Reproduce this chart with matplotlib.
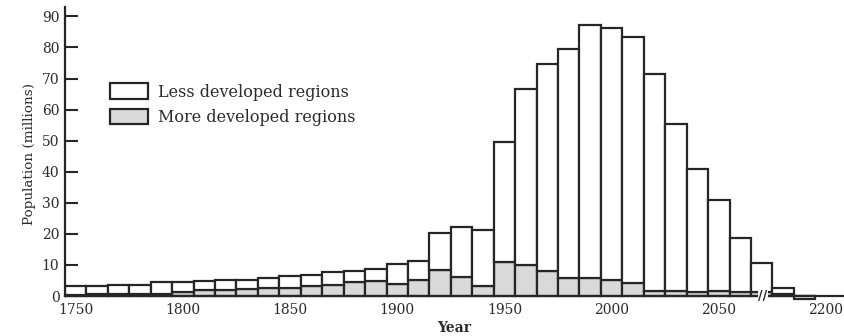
import numpy as np
import matplotlib
matplotlib.use('Agg')
import matplotlib.pyplot as plt
from matplotlib.patches import Patch

# decade bars (millions)
years = [1750, 1760, 1770, 1780, 1790, 1800, 1810, 1820, 1830, 1840,
         1850, 1860, 1870, 1880, 1890, 1900, 1910, 1920, 1930, 1940,
         1950, 1960, 1970, 1980, 1990, 2000, 2010, 2020, 2030, 2040,
         2050, 2060, 2070, 2080, 2090]
total = [3.1, 3.1, 3.7, 3.7, 4.4, 4.4, 5.0, 5.3, 5.3, 5.9,
         6.4, 6.7, 7.8, 8.1, 8.7, 10.2, 11.2, 20.2, 22.1, 21.2,
         49.5, 66.5, 74.8, 79.6, 87.2, 86.3, 83.4, 71.6, 55.5, 40.9,
         30.8, 18.6, 10.6, 2.6, -0.8]
more = [0.5, 0.7, 0.7, 0.7, 0.7, 1.4, 2.0, 2.0, 2.3, 2.7,
        2.7, 3.1, 3.7, 4.4, 4.8, 4.0, 5.1, 8.3, 6.0, 3.3,
        10.9, 9.9, 8.1, 5.9, 5.7, 5.2, 4.1, 1.7, 1.7, 1.3,
        1.7, 1.3, 1.3, 0.6, 0.0]

xtick_pos = [1750, 1800, 1850, 1900, 1950, 2000, 2050, 2100]
xtick_lab = ['1750', '1800', '1850', '1900', '1950', '2000', '2050', '2200']
yticks = list(range(0, 100, 10))

less = np.array(total) - np.array(more)

plt.rcParams['font.family'] = ['DejaVu Serif']
txt = '#2b2b2b'
edge = '#262626'

fig = plt.figure(figsize=(8.44, 3.36), dpi=100)
ax = fig.add_axes([0.077, 0.105, 0.922, 0.874])

ax.bar(years, more, width=10, color='#d9d9d9', edgecolor=edge, linewidth=1.6)
ax.bar(years, less, width=10, bottom=more, color='white', edgecolor=edge,
       linewidth=1.6)

ax.set_xlim(1745, 2108)
ax.set_ylim(-1.5, 93)

for s in ['top', 'right']:
    ax.spines[s].set_visible(False)
ax.spines['bottom'].set_position(('data', 0))
ax.spines['left'].set_bounds(0, 93)
for s in ['left', 'bottom']:
    ax.spines[s].set_linewidth(1.6)
    ax.spines[s].set_color(edge)

ax.set_yticks(yticks)
ax.set_xticks(xtick_pos)
ax.set_xticklabels(xtick_lab)
ax.tick_params(axis='y', direction='in', length=9, width=1.5, color=edge,
               labelsize=10, labelcolor=txt, pad=4)
ax.tick_params(axis='x', length=0, labelsize=10, labelcolor=txt, pad=5)

ax.set_ylabel('Population (millions)', fontsize=9.7, color=txt, labelpad=4)
ax.set_xlabel('Year', fontsize=10, color=txt, fontweight='bold', labelpad=3)

# axis break
ax.text(2070.5, 0, '//', ha='center', va='center', fontsize=9,
        color=edge, fontweight='bold',
        bbox=dict(facecolor='white', edgecolor='none', pad=0.2))

handles = [Patch(facecolor='white', edgecolor=edge, linewidth=1.6),
           Patch(facecolor='#d9d9d9', edgecolor=edge, linewidth=1.6)]
ax.legend(handles, ['Less developed regions', 'More developed regions'],
          loc='upper left', bbox_to_anchor=(0.058, 0.74), frameon=False,
          fontsize=11.5, handlelength=2.4, handleheight=1.1,
          labelspacing=0.52, borderpad=0, borderaxespad=0, handletextpad=0.6,
          labelcolor=txt)

fig.savefig('out.png', dpi=100)
